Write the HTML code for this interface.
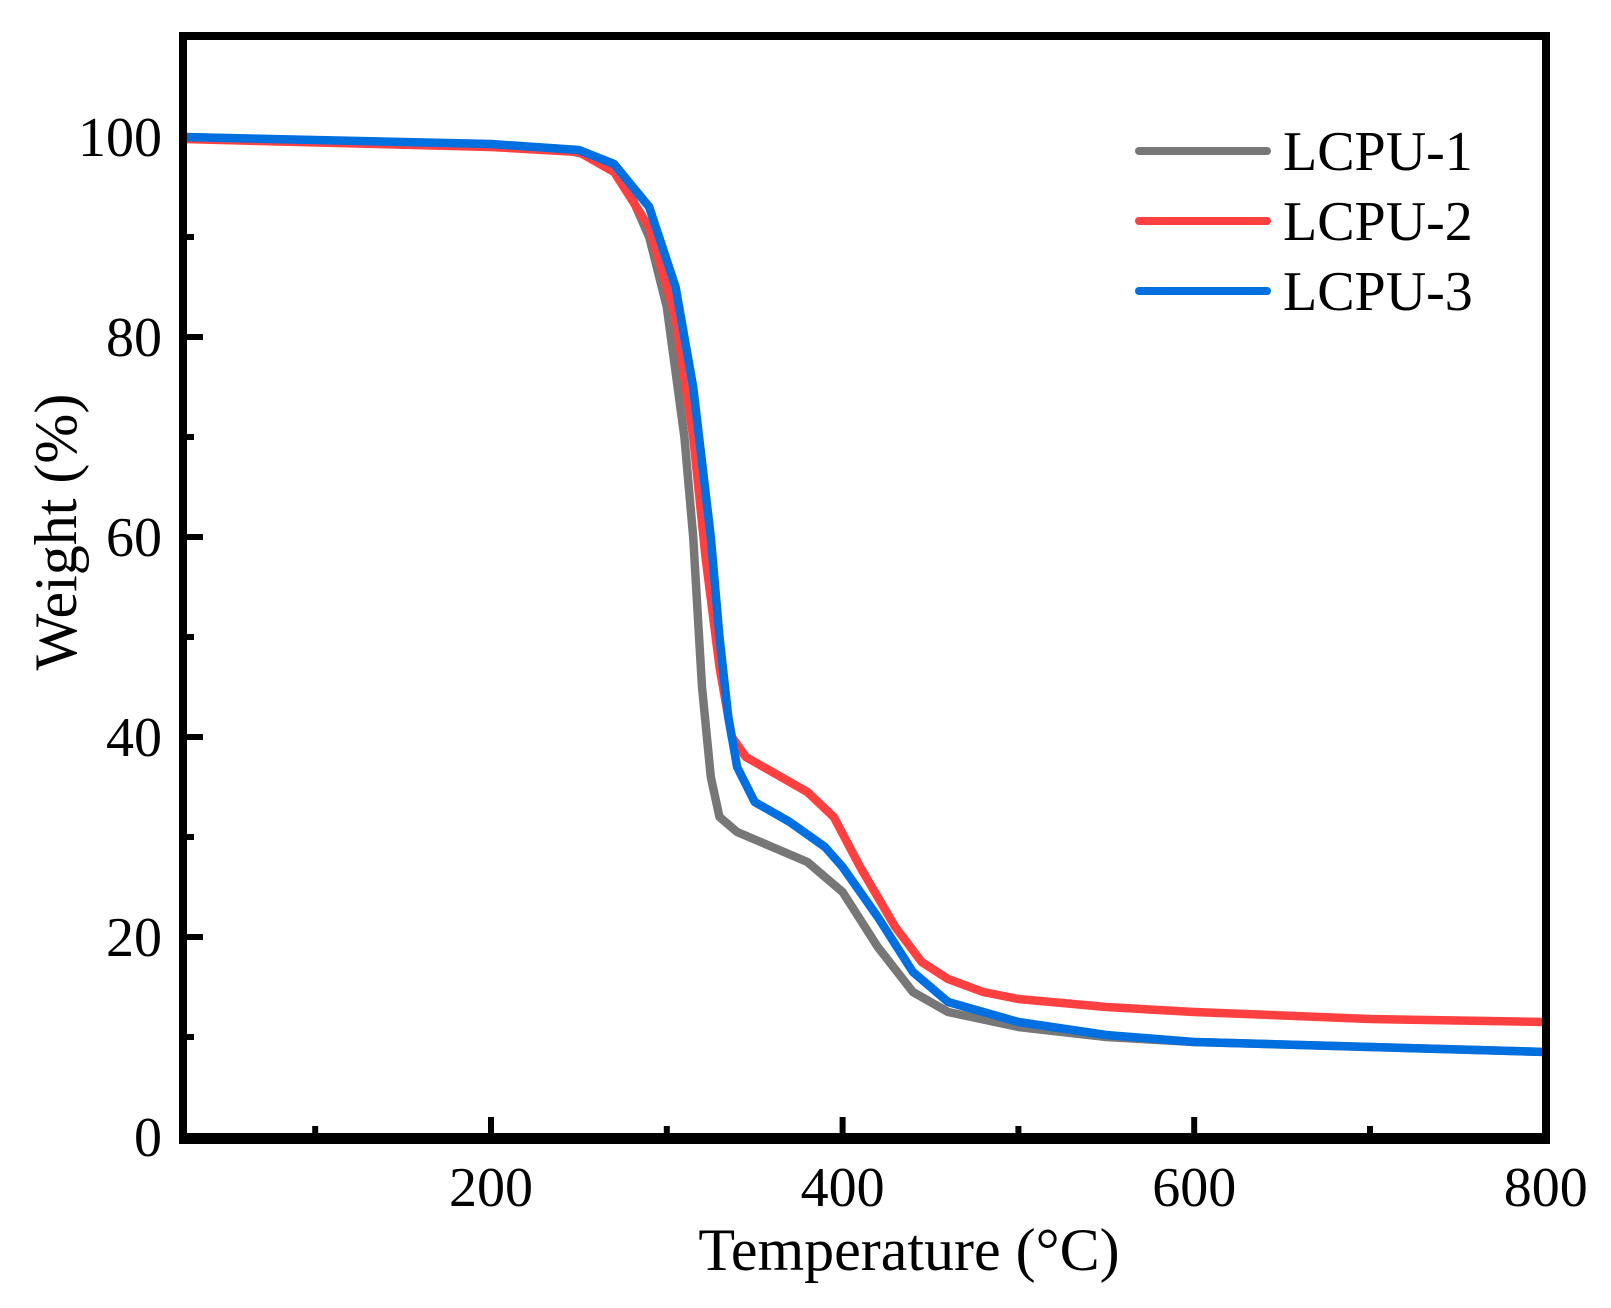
<!DOCTYPE html>
<html><head><meta charset="utf-8"><style>
html,body{margin:0;padding:0;background:#fff;}
svg{display:block;}
text{font-family:"Liberation Serif",serif;fill:#000;}
</style></head><body>
<svg width="1611" height="1308" viewBox="0 0 1611 1308" xmlns="http://www.w3.org/2000/svg">
<g fill="none" stroke-width="8.5" stroke-linejoin="round" stroke-linecap="round">
<polyline stroke="#777" points="183.4,137 491,145 561.3,149 596.5,157 622.9,177 649.2,237 666.8,307 684.4,437 693.2,537 702,687 710.8,777 719.5,817 737.1,832 772.3,847 807.4,862 842.6,892 877.8,947 912.9,992 948.1,1012 1018.4,1027 1106.3,1037 1194.2,1042 1370,1047 1545.8,1052"/>
<polyline stroke="#ff4040" points="183.4,139 491,147 578.9,152 614.1,172 649.2,227 675.6,317 693.2,437 705.5,557 719.5,667 731.8,737 745.9,757 772.3,772 807.4,792 833.8,817 860.2,867 895.3,927 921.7,962 948.1,979 983.2,992 1018.4,999 1106.3,1007 1194.2,1012 1370,1019 1545.8,1022"/>
<polyline stroke="#0070e0" points="183.4,137 491,144 578.9,150 614.1,164 649.2,207 675.6,287 693.2,387 710.8,537 719.5,637 728.3,717 737.1,767 754.7,802 789.8,822 825,847 842.6,867 877.8,917 912.9,972 948.1,1002 1018.4,1022 1106.3,1035 1194.2,1042 1370,1047 1545.8,1052"/>
</g>
<rect x="183" y="36" width="1363" height="1101" fill="none" stroke="#000" stroke-width="8"/>
<line x1="179" y1="1139" x2="1550" y2="1139" stroke="#000" stroke-width="10"/>
<g stroke="#000" stroke-width="6">
<line x1="315.2" y1="1137" x2="315.2" y2="1126"/>
<line x1="491" y1="1137" x2="491" y2="1117"/>
<line x1="666.8" y1="1137" x2="666.8" y2="1126"/>
<line x1="842.6" y1="1137" x2="842.6" y2="1117"/>
<line x1="1018.4" y1="1137" x2="1018.4" y2="1126"/>
<line x1="1194.2" y1="1137" x2="1194.2" y2="1117"/>
<line x1="1370" y1="1137" x2="1370" y2="1126"/>
<line x1="183" y1="1037" x2="194" y2="1037"/>
<line x1="183" y1="937" x2="203" y2="937"/>
<line x1="183" y1="837" x2="194" y2="837"/>
<line x1="183" y1="737" x2="203" y2="737"/>
<line x1="183" y1="637" x2="194" y2="637"/>
<line x1="183" y1="537" x2="203" y2="537"/>
<line x1="183" y1="437" x2="194" y2="437"/>
<line x1="183" y1="337" x2="203" y2="337"/>
<line x1="183" y1="237" x2="194" y2="237"/>
</g>
<g font-size="56">
<text x="491" y="1206" text-anchor="middle">200</text>
<text x="842.6" y="1206" text-anchor="middle">400</text>
<text x="1194.2" y="1206" text-anchor="middle">600</text>
<text x="1545.8" y="1206" text-anchor="middle">800</text>
<text x="162" y="1156" text-anchor="end">0</text>
<text x="162" y="956" text-anchor="end">20</text>
<text x="162" y="756" text-anchor="end">40</text>
<text x="162" y="556" text-anchor="end">60</text>
<text x="162" y="356" text-anchor="end">80</text>
<text x="162" y="156" text-anchor="end">100</text>
</g>
<text x="909" y="1270" font-size="60" text-anchor="middle">Temperature (°C)</text>
<text transform="translate(76,532) rotate(-90)" font-size="60" text-anchor="middle">Weight (%)</text>
<g stroke-width="8" stroke-linecap="round">
<line x1="1139" y1="151" x2="1267" y2="151" stroke="#777"/>
<line x1="1139" y1="221" x2="1267" y2="221" stroke="#ff4040"/>
<line x1="1139" y1="291" x2="1267" y2="291" stroke="#0070e0"/>
</g>
<g font-size="56">
<text x="1283" y="170">LCPU-1</text>
<text x="1283" y="240">LCPU-2</text>
<text x="1283" y="310">LCPU-3</text>
</g>
</svg>
</body></html>
